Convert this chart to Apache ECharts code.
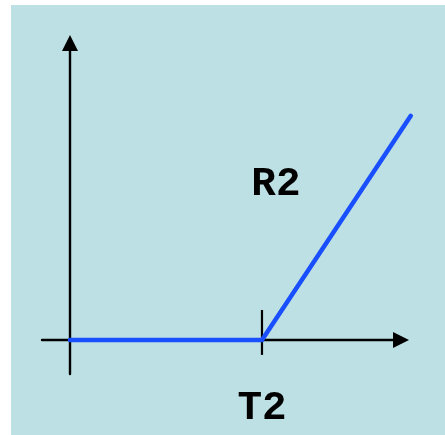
<!DOCTYPE html>
<html>
<head>
<meta charset="utf-8">
<script src="https://cdn.jsdelivr.net/npm/echarts@6/dist/echarts.min.js"></script>
<style>
  body { margin: 0; background: #fff; }
  #main { position: absolute; left: 11px; top: 5px; width: 434px; height: 430px; background: #bce0e3; }
</style>
</head>
<body>
<div id="main"></div>
<script>
// response curve: flat until threshold T2, then rising with slope R2
const curveX = [0, 4, 7.1]
const curveY = [0, 0, 4.67]
const thresholdX = [4, 4]       // small vertical tick at T2
const thresholdY = [0.625, -0.31]
const tickLabels = { 4: 'T2' }
const slopeLabel = { name: 'R2', coord: [4.29, 3.24] }

const chart = echarts.init(document.getElementById('main'))
const monoFont = {
  fontFamily: '"Liberation Mono", "Courier New", monospace',
  fontWeight: 'bold',
  fontSize: 41,
  color: '#000',
}
const arrowLine = {
  onZero: true,
  symbol: ['none', 'triangle'],
  symbolSize: [16, 16],
  lineStyle: { color: '#000', width: 2.4 },
}

// grid 0 draws the visible axes, grid 1 (same scale, a bit wider) holds the curve
// so the end of the line can run past the x arrow like in the original
chart.setOption({
  animation: false,
  grid: [
    { left: 31, right: 44, top: 38, bottom: 61, outerBoundsMode: 'none', containLabel: false },
    { left: 31, right: 20, top: 38, bottom: 61, outerBoundsMode: 'none', containLabel: false },
  ],
  xAxis: [
    {
      type: 'value',
      gridIndex: 0,
      min: -0.583,
      max: 6.896,
      splitLine: { show: false },
      axisTick: { show: false },
      axisLine: arrowLine,
      axisLabel: {
        show: true,
        customValues: [4],
        margin: 35,
        verticalAlign: 'middle',
        formatter: v => tickLabels[v] || '',
        ...monoFont,
      },
    },
    {
      type: 'value',
      gridIndex: 1,
      min: -0.583,
      max: -0.583 + 383 / 48,
      show: false,
    },
  ],
  yAxis: [
    {
      type: 'value',
      gridIndex: 0,
      min: -0.708,
      max: 6.1875,
      splitLine: { show: false },
      axisTick: { show: false },
      axisLabel: { show: false },
      axisLine: arrowLine,
    },
    {
      type: 'value',
      gridIndex: 1,
      min: -0.708,
      max: 6.1875,
      show: false,
    },
  ],
  series: [
    {
      type: 'line',
      xAxisIndex: 1,
      yAxisIndex: 1,
      data: thresholdX.map((x, i) => [x, thresholdY[i]]),
      showSymbol: false,
      lineStyle: { color: '#000', width: 2.2 },
      z: 1,
    },
    {
      type: 'line',
      xAxisIndex: 1,
      yAxisIndex: 1,
      data: curveX.map((x, i) => [x, curveY[i]]),
      showSymbol: false,
      lineStyle: { color: '#1a4fff', width: 4.5, cap: 'round', join: 'miter' },
      z: 3,
      markPoint: {
        symbol: 'circle',
        symbolSize: 0,
        data: [slopeLabel],
        label: { show: true, position: 'inside', formatter: '{b}', ...monoFont },
      },
    },
  ],
})
</script>
</body>
</html>
